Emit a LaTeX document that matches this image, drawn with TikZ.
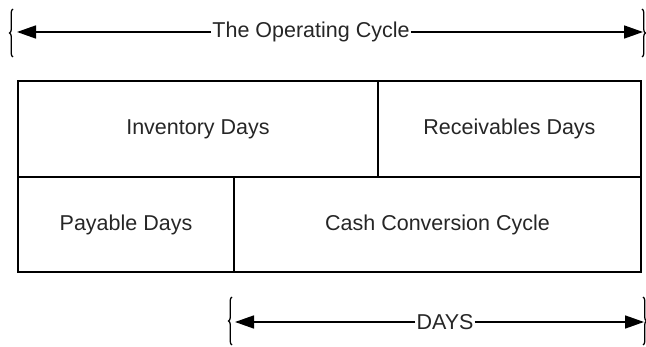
\documentclass[tikz,border=0pt]{standalone}
\usepackage{fontspec}
\setmainfont{Liberation Sans}
\usetikzlibrary{arrows.meta,decorations.pathreplacing}

\begin{document}
\begin{tikzpicture}[x=1pt,y=-1pt,
  cell/.style={draw,line width=1.6pt,inner sep=0pt,text=black!85,
    font=\fontsize{21.5}{25}\selectfont},
  span/.style={line width=1.6pt,-{Triangle[length=19pt,width=13pt]}},
  lbl/.style={inner sep=1pt,text=black!85,font=\fontsize{21.5}{25}\selectfont},
  curly/.style={line width=1.3pt,decorate,decoration={brace,amplitude=3.5pt}}]
\useasboundingbox (0,0) rectangle (646,347);
% the cycle on top
\node[lbl] (cyc) at (311,32) {The Operating Cycle};
\coordinate (cycL) at (17,32);
\coordinate (cycR) at (643,32);
\draw[span] (cyc.west) -- (cycL);
\draw[span] (cyc.east) -- (cycR);
\draw[curly] (13,57) -- (13,9);
\draw[curly] (642,9) -- (642,57);
% the boxes
\node[cell,minimum width=360pt,minimum height=96pt] (inv) at (198,129) {Inventory Days};
\node[cell,minimum width=263pt,minimum height=96pt] (rec) at (509.5,129) {Receivables Days};
\node[cell,minimum width=216pt,minimum height=95pt] (pay) at (126,224.5) {Payable Days};
\node[cell,minimum width=407pt,minimum height=95pt] (ccc) at (437.5,224.5) {Cash Conversion Cycle};
% days arrow
\node[lbl] (days) at (445,322) {DAYS};
\coordinate (daysL) at (235,322);
\coordinate (daysR) at (644,322);
\draw[span] (days.west) -- (daysL);
\draw[span] (days.east) -- (daysR);
\draw[curly] (232,345) -- (232,297);
\draw[curly] (643,297) -- (643,345);
\end{tikzpicture}
\end{document}
